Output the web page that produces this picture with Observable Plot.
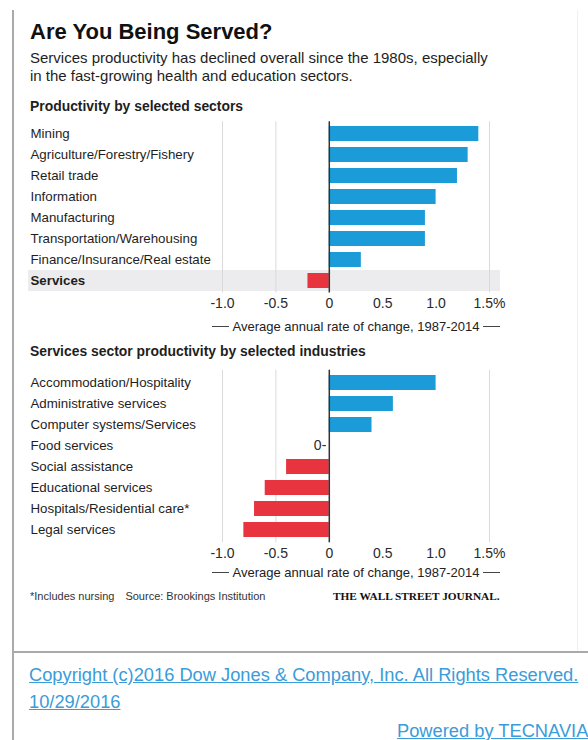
<!DOCTYPE html>
<html><head><meta charset="utf-8">
<script src="https://cdn.jsdelivr.net/npm/d3@7"></script>
<script src="https://cdn.jsdelivr.net/npm/@observablehq/plot@0.6"></script>
<style>
body{margin:0;background:#fff;}
#page{position:relative;width:588px;height:740px;overflow:hidden;font-family:"Liberation Sans",Arial,sans-serif;color:#1e1e1e;}
.abs{position:absolute;white-space:nowrap;}
.title{left:30px;top:21.4px;font-size:22px;line-height:22px;font-weight:bold;color:#111;}
.sub{left:30px;top:48.6px;font-size:15px;line-height:18px;}
.hdr{left:30px;font-size:13.9px;line-height:13.9px;font-weight:bold;}
.axtitle{position:absolute;left:212px;width:288px;display:flex;align-items:center;font-size:13px;line-height:13px;color:#222;}
.axtitle .ln{flex:1;height:1px;background:#444;}
.axtitle .t{padding:0 4px;white-space:nowrap;}
.chart{position:absolute;left:0;}
.foot{left:30px;top:590.7px;font-size:11px;line-height:11px;color:#333;}
.foot .src{margin-left:11px;}
.wsj{left:333px;top:590.5px;font-family:"Liberation Serif","Times New Roman",serif;font-weight:bold;font-size:11.3px;line-height:11.3px;color:#111;}
.link{color:#3a9cd8;text-decoration:underline;font-size:18.3px;line-height:18.3px;font-family:"Liberation Sans",Arial,sans-serif;}
</style></head><body>
<div id="page">
  <div class="abs" style="left:12px;top:10px;width:2px;height:730px;background:#aaa;"></div>
  <div class="abs" style="left:577px;top:10px;width:1px;height:642px;background:#f0f0f0;"></div>
  <div class="abs" style="left:13px;top:651px;width:575px;height:2px;background:#aaa;"></div>
  <div class="abs title">Are You Being Served?</div>
  <div class="abs sub">Services productivity has declined overall since the 1980s, especially<br>in the fast-growing health and education sectors.</div>
  <div class="abs hdr" style="top:100.3px;">Productivity by selected sectors</div>
  <div class="abs hdr" style="top:345.3px;">Services sector productivity by selected industries</div>
  <div id="chart1" class="chart" style="top:112px;"></div>
  <div class="axtitle" style="top:319.5px;"><span class="ln"></span><span class="t">Average annual rate of change, 1987-2014</span><span class="ln"></span></div>
  <div id="chart2" class="chart" style="top:360px;"></div>
  <div class="axtitle" style="top:565.5px;"><span class="ln"></span><span class="t">Average annual rate of change, 1987-2014</span><span class="ln"></span></div>
  <div class="abs foot"><span>*Includes nursing</span><span class="src">Source: Brookings Institution</span></div>
  <div class="abs wsj">THE WALL STREET JOURNAL.</div>
  <div class="abs link" style="left:29px;top:665.5px;">Copyright (c)2016 Dow Jones &amp; Company, Inc. All Rights Reserved.</div>
  <div class="abs link" style="left:29px;top:692.5px;">10/29/2016</div>
  <div class="abs link" style="left:397px;top:721.5px;">Powered by TECNAVIA</div>
</div>
<script>
// ---- data ----
const sectorNames = ["Mining", "Agriculture/Forestry/Fishery", "Retail trade", "Information", "Manufacturing", "Transportation/Warehousing", "Finance/Insurance/Real estate", "Services"];
const sectorValues = [1.4, 1.3, 1.2, 1.0, 0.9, 0.9, 0.3, -0.2];
const industryNames = ["Accommodation/Hospitality", "Administrative services", "Computer systems/Services", "Food services", "Social assistance", "Educational services", "Hospitals/Residential care*", "Legal services"];
const industryValues = [1.0, 0.6, 0.4, 0, -0.4, -0.6, -0.7, -0.8];
const tickValues = [-1.0, -0.5, 0, 0.5, 1.0, 1.5];
const tickLabels = ["-1.0", "-0.5", "0", "0.5", "1.0", "1.5%"];
const gridValues = [-1.0, -0.5, 1.5];
const highlightRow = "Services";

// ---- style / layout ----
const blue = "#1b9bd8", red = "#e8343f", bandFill = "#ececef", gridColor = "#dadada";
const fontFamily = '"Liberation Sans", Arial, sans-serif';
const W = 588, frameLeft = 28, frameRight = 500;
const pxNeg1 = 222, pxPos15 = 489;
const k = (pxPos15 - pxNeg1) / 2.5;
const xDomain = [-1 - (pxNeg1 - frameLeft) / k, 1.5 + (frameRight - pxPos15) / k];

function barChart(names, values, {height, marginTop, marginBottom}) {
  const data = names.map((name, i) => ({name, value: values[i], sign: values[i] < 0 ? "neg" : "pos"}));
  const hl = data.filter(d => d.name === highlightRow);
  const normal = data.filter(d => d.name !== highlightRow);
  const zeros = data.filter(d => d.value === 0);
  return Plot.plot({
    width: W, height, marginLeft: frameLeft, marginRight: W - frameRight, marginTop, marginBottom,
    style: {fontFamily, fontSize: "14px", color: "#2a2a2a", background: "transparent", overflow: "visible"},
    x: {domain: xDomain, ticks: tickValues, tickFormat: d => tickLabels[tickValues.indexOf(d)], tickSize: 0, tickPadding: 5, label: null},
    y: {domain: names, paddingInner: 0.3, paddingOuter: 0.15, axis: null},
    color: {domain: ["pos", "neg"], range: [blue, red]},
    marks: [
      Plot.cell(hl, {y: "name", fill: bandFill, insetTop: -3, insetBottom: -3}),
      Plot.ruleX(gridValues, {stroke: gridColor, strokeWidth: 1}),
      Plot.barX(data, {x: "value", y: "name", fill: "sign"}),
      Plot.ruleX([0], {stroke: "#333", strokeWidth: 1.5}),
      Plot.text(normal, {y: "name", text: "name", frameAnchor: "left", textAnchor: "start", dx: 2, fontSize: 13.3, fill: "#1e1e1e"}),
      Plot.text(hl, {y: "name", text: "name", frameAnchor: "left", textAnchor: "start", dx: 2, fontSize: 13.3, fontWeight: "bold", fill: "#1e1e1e"}),
      Plot.text(zeros, {x: "value", y: "name", text: d => "0-", textAnchor: "end", dx: -3, fontSize: 14, fill: "#2a2a2a"})
    ]
  });
}

document.getElementById("chart1").appendChild(barChart(sectorNames, sectorValues, {height: 200, marginTop: 9.3, marginBottom: 19.5}));
document.getElementById("chart2").appendChild(barChart(industryNames, industryValues, {height: 200, marginTop: 9.7, marginBottom: 17.7}));
</script>
</body></html>
